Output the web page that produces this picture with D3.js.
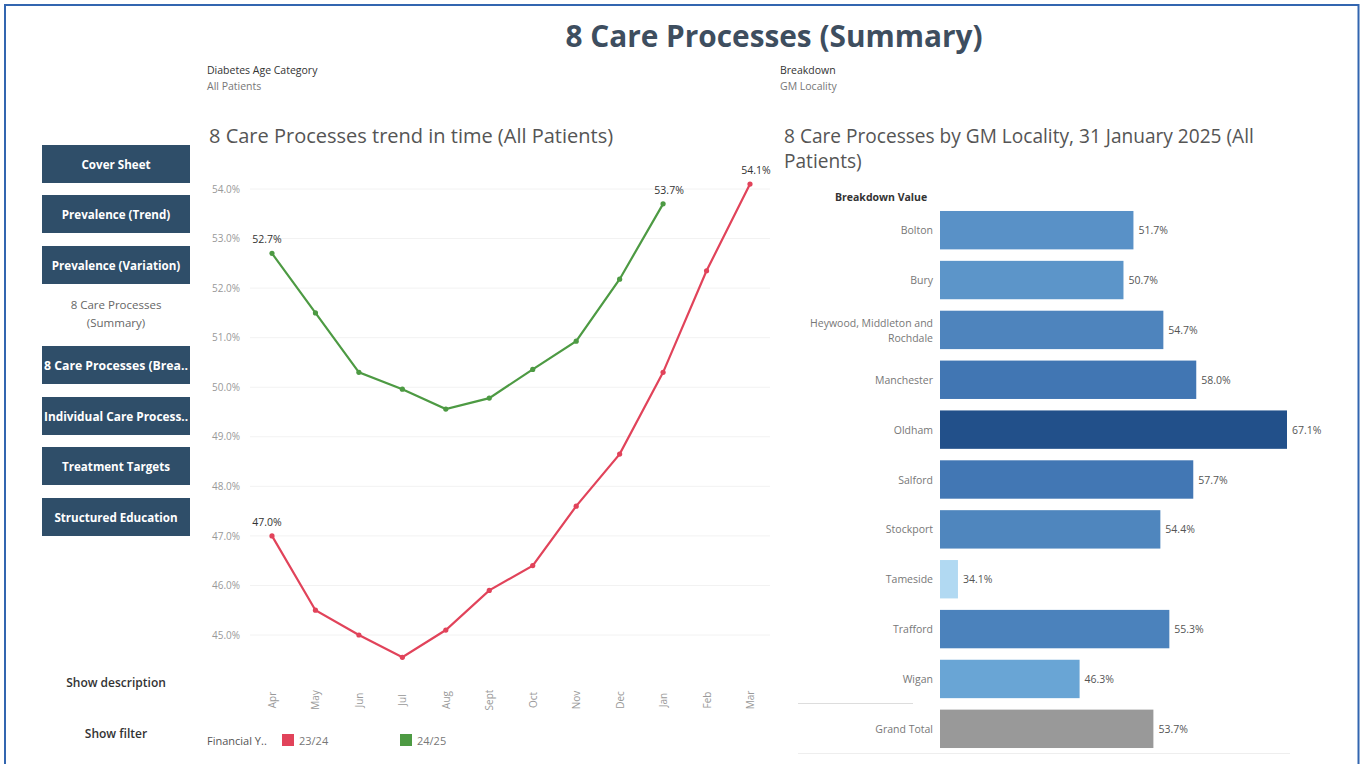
<!DOCTYPE html>
<html>
<head>
<meta charset="utf-8">
<script src="https://cdn.jsdelivr.net/npm/d3@7"></script>
<style>
  html, body { margin: 0; padding: 0; background: #ffffff; }
  svg { display: block; font-family: "Open Sans", "Noto Sans", sans-serif; }
</style>
</head>
<body>
<svg id="chart" width="1364" height="764"></svg>
<script>
// ---------- data ----------
const months = ["Apr","May","Jun","Jul","Aug","Sept","Oct","Nov","Dec","Jan","Feb","Mar"];
const fy2324 = [47.0, 45.5, 45.0, 44.55, 45.1, 45.9, 46.4, 47.6, 48.65, 50.3, 52.35, 54.1];
const fy2425 = [52.7, 51.5, 50.3, 49.96, 49.56, 49.78, 50.36, 50.93, 52.18, 53.7];
const yTicks = [45, 46, 47, 48, 49, 50, 51, 52, 53, 54];
const seriesNames = ["23/24", "24/25"];
const seriesColors = ["#e1435a", "#4d9a43"];

const localities = ["Bolton","Bury","Heywood, Middleton and Rochdale","Manchester","Oldham","Salford","Stockport","Tameside","Trafford","Wigan","Grand Total"];
const localityValues = [51.7, 50.7, 54.7, 58.0, 67.1, 57.7, 54.4, 34.1, 55.3, 46.3, 53.7];

const navButtons = ["Cover Sheet","Prevalence (Trend)","Prevalence (Variation)","8 Care Processes (Summary)","8 Care Processes (Brea..","Individual Care Process..","Treatment Targets","Structured Education"];

// ---------- setup ----------
const svg = d3.select("#chart");

// frame
svg.append("rect").attr("x", 5).attr("y", 5).attr("width", 1353.5).attr("height", 775)
  .attr("fill", "none").attr("stroke", "#3366b0").attr("stroke-width", 2);

// title
svg.append("text").attr("x", 774).attr("y", 47).attr("text-anchor", "middle")
  .attr("font-size", 29.8).attr("font-weight", 700).attr("fill", "#3e4e5f")
  .text("8 Care Processes (Summary)");

// filter captions
function caption(x, a, b) {
  svg.append("text").attr("x", x).attr("y", 74).attr("font-size", 10.5).attr("fill", "#333").text(a);
  svg.append("text").attr("x", x).attr("y", 90).attr("font-size", 10.5).attr("fill", "#777").text(b);
}
caption(207, "Diabetes Age Category", "All Patients");
caption(780, "Breakdown", "GM Locality");

// ---------- nav ----------
const navTops = [145, 195, 246, null, 346, 397, 447, 498];
navButtons.forEach((label, i) => {
  if (i === 3) {
    svg.append("text").attr("x", 116).attr("y", 309).attr("text-anchor", "middle")
      .attr("font-size", 11.5).attr("fill", "#666").text("8 Care Processes");
    svg.append("text").attr("x", 116).attr("y", 327).attr("text-anchor", "middle")
      .attr("font-size", 11.5).attr("fill", "#666").text("(Summary)");
    return;
  }
  const top = navTops[i];
  svg.append("rect").attr("x", 42).attr("y", top).attr("width", 148).attr("height", 38)
    .attr("fill", "#2f4e69");
  const t = svg.append("text").attr("x", 116).attr("y", top + 23.5).attr("text-anchor", "middle")
    .attr("font-size", label.endsWith("..") ? 12 : 11.6).attr("font-weight", 700).attr("fill", "#ffffff")
    .text(label);
  if (label.endsWith("..")) t.attr("textLength", 144).attr("lengthAdjust", "spacingAndGlyphs");
});
svg.append("text").attr("x", 116).attr("y", 687).attr("text-anchor", "middle")
  .attr("font-size", 12).attr("font-weight", 600).attr("fill", "#333").text("Show description");
svg.append("text").attr("x", 116).attr("y", 738).attr("text-anchor", "middle")
  .attr("font-size", 12).attr("font-weight", 600).attr("fill", "#333").text("Show filter");

// ---------- line chart ----------
svg.append("text").attr("x", 209).attr("y", 143).attr("font-size", 20).attr("fill", "#555")
  .text("8 Care Processes trend in time (All Patients)");

const x = d3.scalePoint().domain(months).range([272, 750]);
const y = d3.scaleLinear().domain([45, 54]).range([635, 189]);

const grid = svg.append("g");
grid.selectAll("line").data(yTicks).join("line")
  .attr("x1", 250).attr("x2", 770)
  .attr("y1", d => y(d)).attr("y2", d => y(d))
  .attr("stroke", "#f2f2f2").attr("stroke-width", 1);

const yAxis = svg.append("g").attr("transform", "translate(243,0)")
  .call(d3.axisLeft(y).tickValues(yTicks).tickFormat(d => d3.format(".1f")(d) + "%").tickSize(0));
yAxis.select(".domain").remove();
yAxis.selectAll("text").attr("font-size", 10).attr("fill", "#999").attr("font-family", "\"Open Sans\", sans-serif");

const xAxis = svg.append("g").attr("transform", "translate(0,680)")
  .call(d3.axisBottom(x).tickSize(0));
xAxis.select(".domain").remove();
xAxis.selectAll("text")
  .attr("font-size", 10).attr("fill", "#999").attr("font-family", "\"Open Sans\", sans-serif")
  .attr("transform", "rotate(-90)")
  .attr("text-anchor", "middle")
  .attr("x", -20).attr("y", 0).attr("dy", "0.35em");

const seriesData = [fy2324, fy2425];
const line = d3.line().x((d, i) => x(months[i])).y(d => y(d));
seriesData.forEach((vals, s) => {
  svg.append("path").datum(vals).attr("d", line)
    .attr("fill", "none").attr("stroke", seriesColors[s]).attr("stroke-width", 2.2);
  svg.append("g").selectAll("circle").data(vals).join("circle")
    .attr("cx", (d, i) => x(months[i])).attr("cy", d => y(d)).attr("r", 2.6)
    .attr("fill", seriesColors[s]);
  const first = 0, last = vals.length - 1;
  [first, last].forEach(i => {
    svg.append("text")
      .attr("x", x(months[i]) + (i === first ? -5 : 6))
      .attr("y", y(vals[i]) - 10)
      .attr("text-anchor", "middle")
      .attr("font-size", 10.5).attr("fill", "#333")
      .text(d3.format(".1f")(vals[i]) + "%");
  });
});

// legend
svg.append("text").attr("x", 207).attr("y", 745).attr("font-size", 11).attr("fill", "#555").text("Financial Y..");
const legendX = [282, 400];
seriesNames.forEach((n, i) => {
  svg.append("rect").attr("x", legendX[i]).attr("y", 734).attr("width", 12).attr("height", 12)
    .attr("fill", seriesColors[i]);
  svg.append("text").attr("x", legendX[i] + 17).attr("y", 745).attr("font-size", 11).attr("fill", "#777").text(n);
});

// ---------- bar chart ----------
svg.append("text").attr("x", 784).attr("y", 143).attr("font-size", 19.1).attr("fill", "#555")
  .text("8 Care Processes by GM Locality, 31 January 2025 (All");
svg.append("text").attr("x", 784).attr("y", 168).attr("font-size", 19.1).attr("fill", "#555")
  .text("Patients)");
svg.append("text").attr("x", 835).attr("y", 201).attr("font-size", 10.5).attr("font-weight", 700)
  .attr("fill", "#333").text("Breakdown Value");

const yb = d3.scaleBand().domain(localities).range([205, 754]).paddingInner(0.23).paddingOuter(0.12);
const xb = d3.scaleLinear().domain([32.3, 67.1]).range([940, 1287]);
const colorScale = d3.scaleLinear()
  .domain([34, 46, 52, 58, 67])
  .range(["#b2d9f2", "#6aa6d6", "#5890c6", "#4176b3", "#22508a"]);

svg.append("line").attr("x1", 798).attr("x2", 913).attr("y1", 703.5).attr("y2", 703.5)
  .attr("stroke", "#ddd");
svg.append("line").attr("x1", 798).attr("x2", 1290).attr("y1", 753.5).attr("y2", 753.5)
  .attr("stroke", "#eee");

const rows = svg.append("g").selectAll("g").data(localities).join("g");
rows.append("rect")
  .attr("x", xb(32.3))
  .attr("y", d => yb(d))
  .attr("height", yb.bandwidth())
  .attr("width", (d, i) => xb(localityValues[i]) - xb(32.3))
  .attr("fill", (d, i) => d === "Grand Total" ? "#999999" : colorScale(localityValues[i]));
rows.append("text")
  .attr("x", (d, i) => xb(localityValues[i]) + 5)
  .attr("y", d => yb(d) + yb.bandwidth() / 2 + 4)
  .attr("font-size", 10.5).attr("fill", "#555")
  .text((d, i) => d3.format(".1f")(localityValues[i]) + "%");
rows.each(function(d) {
  const g = d3.select(this);
  const cy = yb(d) + yb.bandwidth() / 2;
  if (d === "Heywood, Middleton and Rochdale") {
    g.append("text").attr("x", 933).attr("y", cy - 3).attr("text-anchor", "end")
      .attr("font-size", 10.5).attr("fill", "#777").text("Heywood, Middleton and");
    g.append("text").attr("x", 933).attr("y", cy + 12).attr("text-anchor", "end")
      .attr("font-size", 10.5).attr("fill", "#777").text("Rochdale");
  } else {
    g.append("text").attr("x", 933).attr("y", cy + 4).attr("text-anchor", "end")
      .attr("font-size", 10.5).attr("fill", "#777").text(d);
  }
});
</script>
</body>
</html>
